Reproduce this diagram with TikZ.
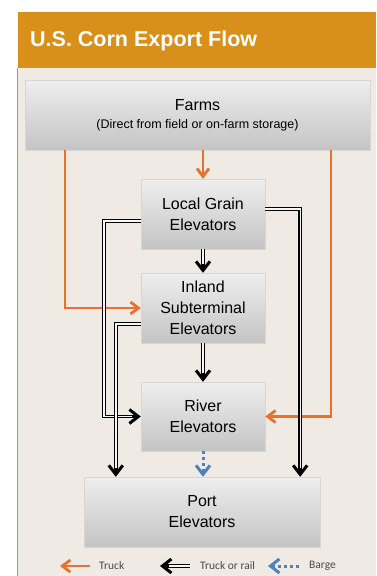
\documentclass[tikz,border=0pt]{standalone}
\usepackage{fontspec}
\setmainfont{Liberation Sans}
\newfontfamily\legendfont{Carlito}
\usetikzlibrary{arrows.meta,calc}

\definecolor{headorange}{HTML}{D8901A}
\definecolor{panelbg}{HTML}{EFEBE4}
\definecolor{truckorange}{HTML}{E8712C}
\definecolor{bargeblue}{HTML}{4F81BD}
\definecolor{boxtop}{HTML}{EEEEEE}
\definecolor{boxbot}{HTML}{C4C4C4}
\definecolor{boxline}{HTML}{D6D6D6}
\definecolor{legendgray}{HTML}{4A4A4A}

\tikzset{
  elevator/.style={rectangle, draw=boxline, top color=boxtop, bottom color=boxbot,
    minimum height=70pt, inner sep=0pt, align=center,
    font=\fontsize{16}{21}\selectfont},
  truck/.style={draw=truckorange, line width=2.5pt,
    -{Straight Barb[length=8pt,width=12pt,line width=2.8pt]}},
  rail/.style={draw=white!94!gray, line width=1.4pt, shorten >=9pt,
    preaction={draw=black, line width=3.6pt, shorten >=0pt,
      -{Straight Barb[length=9pt,width=14pt,line width=3pt]}}},
  barge/.style={draw=bargeblue, line width=3pt, dash pattern=on 3pt off 3pt,
    -{Straight Barb[length=9pt,width=14pt,line width=3pt]}},
  legendtext/.style={anchor=west, inner sep=0pt, text=legendgray,
    font=\legendfont\fontsize{11.5}{13}\selectfont}
}

\begin{document}
\begin{tikzpicture}[x=1pt,y=-1pt]
\useasboundingbox (0,0) rectangle (376,576);
% panel and header
\fill[panelbg] (17.5,12) rectangle (376,576);
\draw[headorange, line width=1pt] (17.5,68) -- (17.5,576);
\fill[headorange] (17.5,12) rectangle (376,68);
\node[anchor=west, text=white, inner sep=0pt, font=\bfseries\fontsize{21.5}{24}\selectfont] (title) at (30,41) {U.S. Corn Export Flow};

% elevators
\node[elevator, minimum width=345pt] (farms) at (197.5,115) {Farms\\[-3pt]{\fontsize{12.5}{14}\selectfont (Direct from field or on-farm storage)}};
\node[elevator, minimum width=124pt] (local) at (203,214) {Local Grain\\Elevators};
\node[elevator, minimum width=124pt] (inland) at (203,308) {Inland\\Subterminal\\Elevators};
\node[elevator, minimum width=124pt, minimum height=69pt] (river) at (203,416.5) {River\\Elevators};
\node[elevator, minimum width=236pt] (port) at (202,512) {Port\\Elevators};

% truck
\draw[truck] (farms.south -| local.north) -- (local.north);
\draw[truck] ([xshift=40pt]farms.south west) |- (inland.west);
\draw[truck] ([xshift=-39pt]farms.south east) |- (river.east);

% truck or rail
\draw[rail] (local.south) -- (inland.north);
\draw[rail] (inland.south) -- (river.north);
\draw[rail] ([yshift=-7pt]local.west) -- ++(-37,0) |- (river.west);
\draw[rail] ([yshift=-16pt]inland.west) -| ([xshift=32pt]port.north west);
\draw[rail] ([yshift=5pt]local.east) -| ([xshift=-20pt]port.north east);

% barge
\draw[barge] (river.south) -- (river.south |- port.north);

% legend
\node[legendtext] (ltruck) at (99,566) {Truck};
\node[legendtext] (lrail) at (200,566) {Truck or rail};
\node[legendtext] (lbarge) at (309,566) {Barge};
\draw[truck] ([xshift=-9pt]ltruck.west) -- ++(-30,0);
\draw[rail] ([xshift=-10pt]lrail.west) -- ++(-30,0);
\draw[barge] ([xshift=-10pt]lbarge.west) -- ++(-31,0);
\end{tikzpicture}
\end{document}
